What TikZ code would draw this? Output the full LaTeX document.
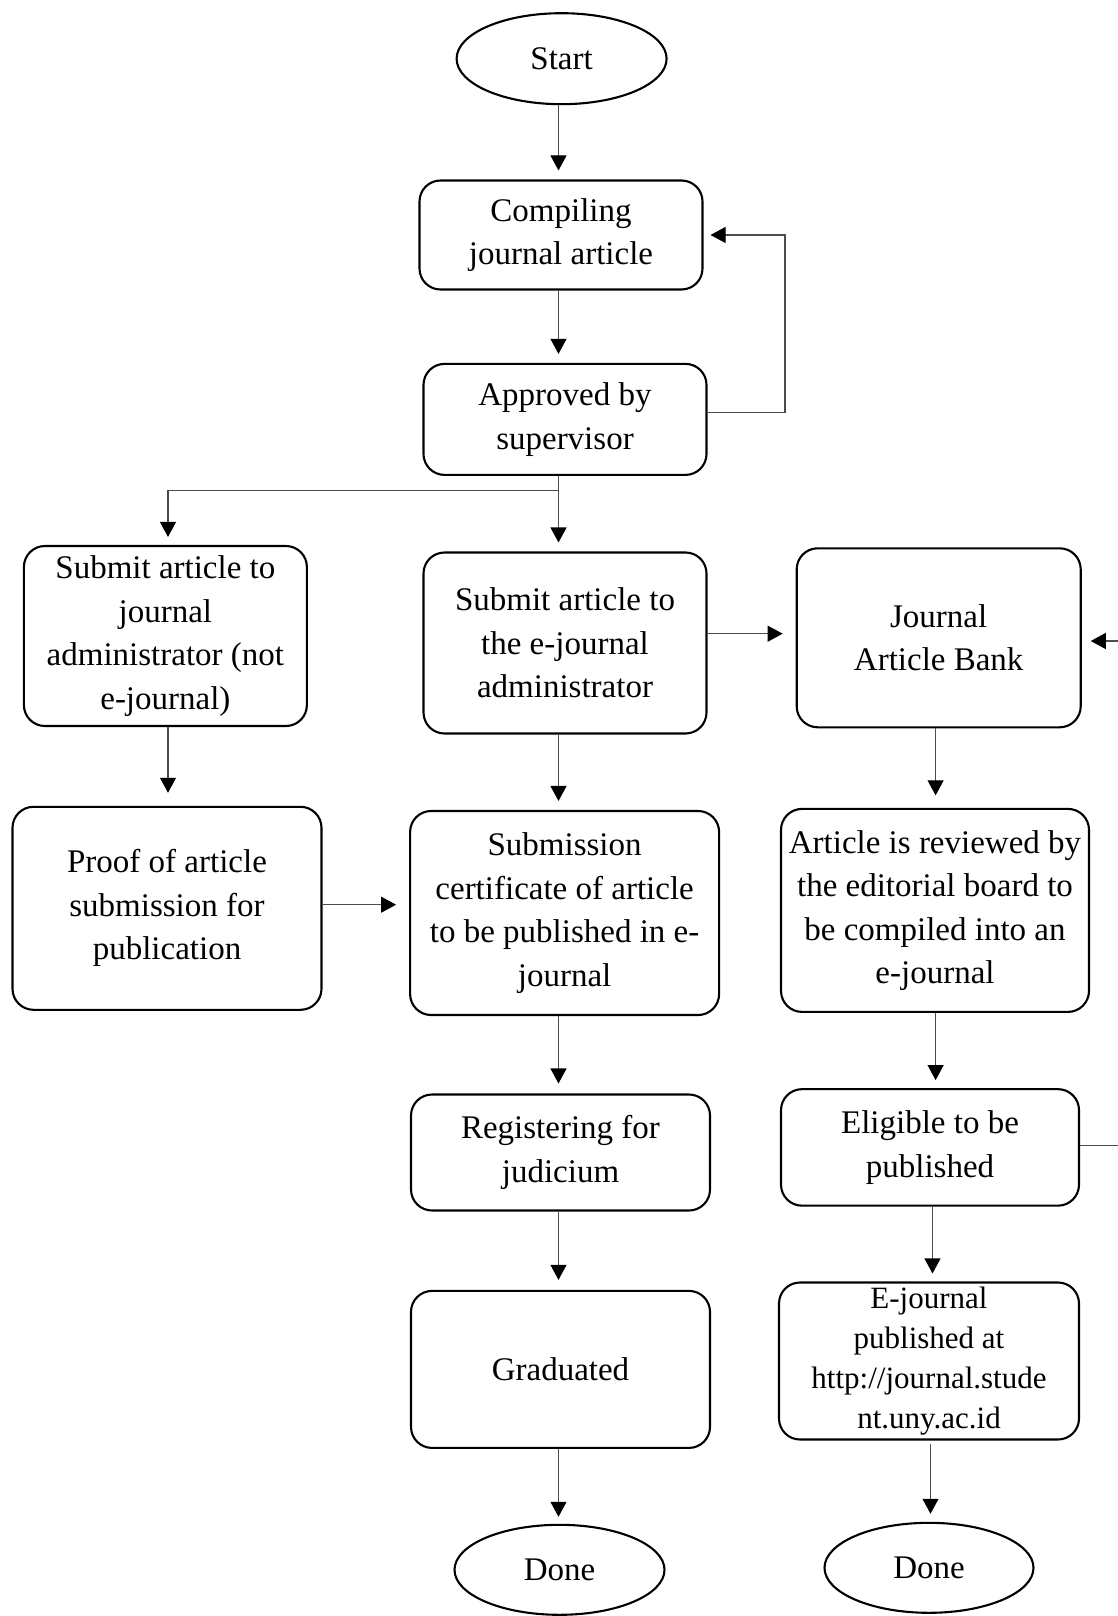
\documentclass[tikz,border=0pt]{standalone}
\usepackage{fontspec}
\setmainfont{Liberation Serif}
\usetikzlibrary{arrows.meta,shapes.geometric}
\begin{document}
\begin{tikzpicture}[x=1pt,y=-1pt,
  box/.style={draw=black, line width=2.1pt, rounded corners=21pt, align=center, inner sep=0pt, font=\fontsize{33}{43.5}\selectfont},
  term/.style={draw=black, line width=2.1pt, ellipse, inner sep=0pt, font=\fontsize{33}{43.5}\selectfont},
  arr/.style={draw=black!70, line width=1.1pt, -{Triangle[width=16pt,length=15pt,black]}, shorten >=9pt},
  ln/.style={draw=black!70, line width=1.1pt}]
\useasboundingbox[fill=white] (0,0) rectangle (1118,1616);

% nodes
\node[term, minimum width=210pt, minimum height=91pt] (start) at (561.6,58.7) {Start};
\node[box, minimum width=283pt, minimum height=109pt] (comp) at (561,235) {Compiling\\journal article};
\node[box, minimum width=283pt, minimum height=111pt] (appr) at (565,419.4) {Approved by\\supervisor};
\node[box, minimum width=283pt, minimum height=180pt] (subn) at (165.4,636) {Submit article to\\journal\\administrator (not\\e-journal)};
\node[box, minimum width=283pt, minimum height=181pt] (sube) at (565,643) {Submit article to\\the e-journal\\administrator};
\node[box, minimum width=284pt, minimum height=179pt] (bank) at (938.7,637.8) {Journal\\Article Bank};
\node[box, minimum width=308pt, minimum height=203pt] (rev) at (935,910.4) {Article is reviewed by\\the editorial board to\\be compiled into an\\e-journal};
\node[box, minimum width=309pt, minimum height=203pt] (proof) at (167,908.3) {Proof of article\\submission for\\publication};
\node[box, minimum width=309pt, minimum height=204pt] (cert) at (564.6,913) {Submission\\certificate of article\\to be published in e-\\journal};
\node[box, minimum width=299pt, minimum height=116pt] (reg) at (560.5,1152.5) {Registering for\\judicium};
\node[box, minimum width=298pt, minimum height=116.5pt] (elig) at (930,1147.4) {Eligible to be\\published};
\node[box, minimum width=300pt, minimum height=157pt, font=\fontsize{31}{40}\selectfont] (ejn) at (929,1361) {E-journal\\published at\\http://journal.stude\\nt.uny.ac.id};
\node[box, minimum width=299pt, minimum height=157pt] (grad) at (560.5,1369.4) {Graduated};
\node[term, minimum width=210pt, minimum height=90pt] (doneL) at (559.5,1569.8) {Done};
\node[term, minimum width=209pt, minimum height=90pt] (doneR) at (929,1567.8) {Done};

% column coordinates
\coordinate (col) at (558.5,0);
\coordinate (colL) at (168,0);
\coordinate (colR) at (935.6,0);
\coordinate (colE) at (932.5,0);
\coordinate (colD) at (930.5,0);
\coordinate (loopx) at (785,0);
\coordinate (rin) at (1118,641);
\coordinate (rout) at (1118,1145.8);

% connectors
\draw[arr] (start.south -| col) -- (comp.north -| col);
\draw[arr] (comp.south -| col) -- (appr.north -| col);
\draw[arr, shorten >=7pt] ([yshift=7pt]appr.east) coordinate (a1) -- (a1 -| loopx) |- (comp.east);
\draw[ln] (appr.south -| col) -- ++(0,14.4) coordinate (br);
\draw[arr, shorten >=8pt] (br) -| (subn.north -| colL);
\draw[arr] (br) -- (sube.north -| col);
\draw[arr, shorten >=13pt] ([yshift=9.3pt]sube.east) coordinate (p) -- (p -| bank.west);
\draw[arr] (rin) -- (rin -| bank.east);
\draw[arr, shorten >=12.5pt] (bank.south -| colR) -- (rev.north -| colR);
\draw[arr, shorten >=13pt] (subn.south -| colL) -- (proof.north -| colL);
\draw[arr, shorten >=13pt] ([yshift=3.6pt]proof.east) coordinate (q) -- (q -| cert.west);
\draw[arr] (sube.south -| col) -- (cert.north -| col);
\draw[arr, shorten >=10pt] (cert.south -| col) -- (reg.north -| col);
\draw[arr, shorten >=8pt] (rev.south -| colR) -- (elig.north -| colR);
\draw[ln] (rout -| elig.east) -- (rout);
\draw[arr, shorten >=8pt] (elig.south -| colE) -- (ejn.north -| colE);
\draw[arr, shorten >=8pt, shorten <=3pt] (ejn.south -| colD) -- (doneR.north -| colD);
\draw[arr, shorten >=10pt] (reg.south -| col) -- (grad.north -| col);
\draw[arr, shorten >=7pt] (grad.south -| col) -- (doneL.north -| col);
\end{tikzpicture}
\end{document}
